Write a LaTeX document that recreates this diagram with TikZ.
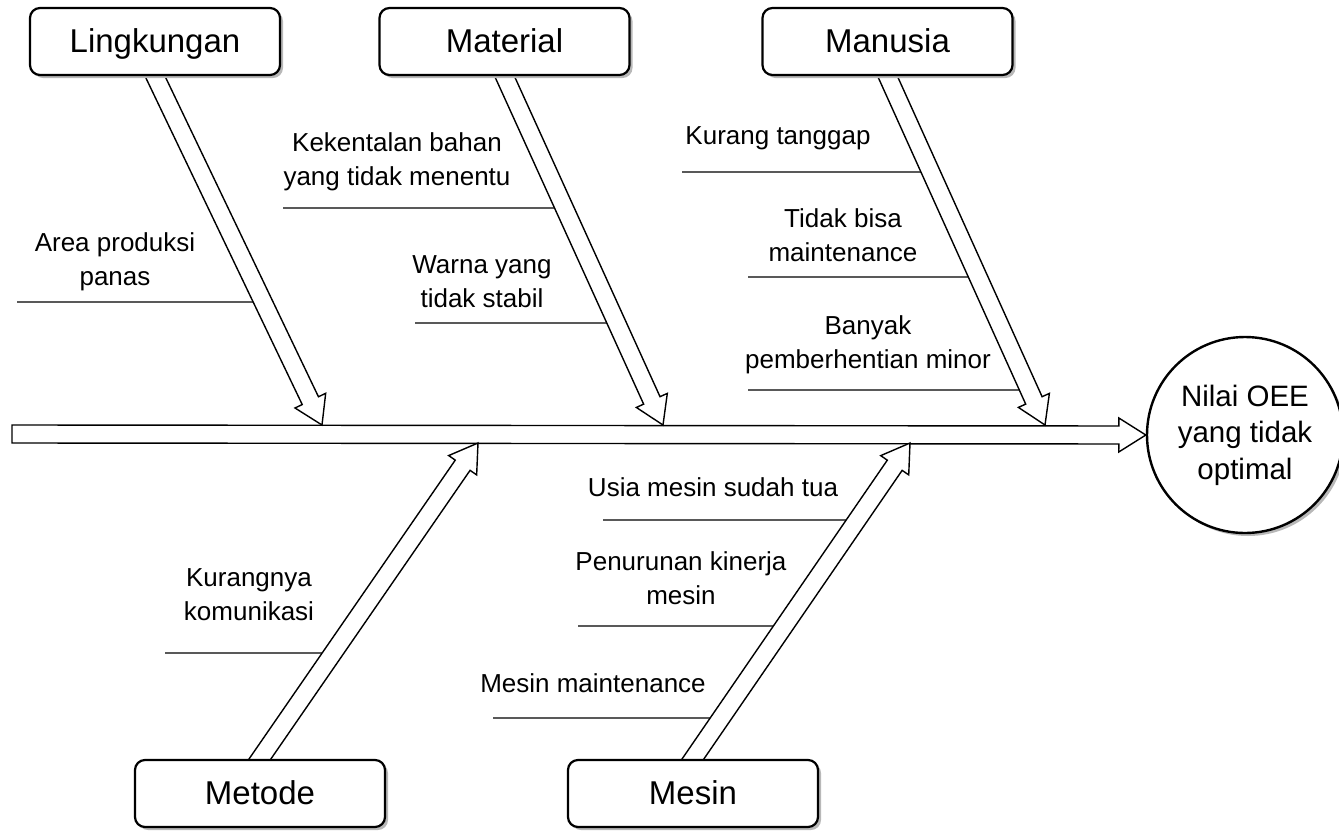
\documentclass[tikz,border=0pt]{standalone}
\usepackage{fontspec}
\setmainfont{Liberation Sans}
\usetikzlibrary{calc,positioning,shadows,intersections}
\pgfdeclarelayer{back}
\pgfsetlayers{back,main}

\tikzset{
  cause/.style={draw, line width=2.2pt, rounded corners=10pt, fill=white,
    minimum width=250pt, minimum height=67pt, inner sep=0pt,
    text height=26pt, text depth=5pt,
    font=\fontsize{33}{40}\selectfont,
    drop shadow={shadow xshift=3pt, shadow yshift=-3pt, fill=black!28, opacity=1}},
  effect/.style={draw, circle, line width=2.4pt, fill=white, minimum size=196pt,
    inner sep=0pt, align=center, font=\fontsize{29.5}{36.5}\selectfont,
    drop shadow={shadow xshift=3pt, shadow yshift=-3pt, fill=black!28, opacity=1}},
  reason/.style={align=center, inner sep=0pt, font=\fontsize{26}{34}\selectfont},
  bone/.style={line width=1.4pt, fill=white, line join=miter},
  twig/.style={line width=1.4pt},
}

% hollow arrow from #1 to #2
\newcommand{\hollowarrow}[2]{%
  \coordinate (ha-h) at ($(#2)!27pt!(#1)$);
  \draw[bone] ($(#1)!9pt!90:(#2)$) -- ($(ha-h)!9pt!90:(#2)$) -- ($(ha-h)!17pt!90:(#2)$)
    -- (#2) -- ($(ha-h)!17pt!-90:(#2)$) -- ($(ha-h)!9pt!-90:(#2)$)
    -- ($(#1)!9pt!-90:(#2)$) -- cycle;
}

\begin{document}
\begin{tikzpicture}[x=1pt, y=-1pt]
  \useasboundingbox (0,0) rectangle (1339,831);

  % effect
  \node[effect] (oee) at (1245,435) {Nilai OEE\\yang tidak\\optimal};

  % main causes
  \node[cause] (boxL)  at (155,41.5)  {Lingkungan};
  \node[cause] (boxMa) at (504.5,41.5) {Material};
  \node[cause] (boxMn) at (887.5,41.5) {Manusia};
  \node[cause] (boxMt) at (260,793.5) {Metode};
  \node[cause] (boxMs) at (693,793.5) {Mesin};

  % sub causes
  \node[reason] (areaP)   at (115,262)   {Area produksi\\panas};
  \node[reason] (kental)  at (397,162)   {Kekentalan bahan\\yang tidak menentu};
  \node[reason] (warna)   at (482,282)   {Warna yang\\tidak stabil};
  \node[reason] (tanggap) at (778,138)   {Kurang tanggap};
  \node[reason] (tdkBisa) at (843,235)   {Tidak bisa\\maintenance};
  \node[reason] (minor)   at (868,345)   {Banyak\\pemberhentian minor};
  \node[reason] (komun)   at (249,595)   {Kurangnya\\komunikasi};
  \node[reason] (usia)    at (713,487)   {Usia mesin sudah tua};
  \node[reason] (kinerja) at (681,578)   {Penurunan kinerja\\mesin};
  \node[reason] (mesinM)  at (593,683)   {Mesin maintenance};

  % tips on the spine
  \coordinate (spineStart) at (12,434);
  \coordinate (tipL)  at (322,425);
  \coordinate (tipMa) at (663,425);
  \coordinate (tipMn) at (1045,425);
  \coordinate (tipMt) at (478,443);
  \coordinate (tipMs) at (910,443);
  \foreach \b in {L,Ma,Mn}
    \coordinate (tail\b) at ($(box\b.south)!-12pt!(tip\b)$);
  \foreach \b in {Mt,Ms}
    \coordinate (tail\b) at ($(box\b.north)!-12pt!(tip\b)$);

  \begin{pgfonlayer}{back}
    \foreach \b/\yy/\xx in {L/302/17, Ma/208/283, Ma/323/415, Mn/172/682, Mn/277/748,
        Mn/390/748, Mt/653/165, Ms/520/603, Ms/626/578, Ms/718/493}
    {
      \path[name path=axis] (tail\b) -- (tip\b);
      \path[name path=level] (\xx,\yy) -- (1339,\yy);
      \draw[twig, name intersections={of=axis and level}] (\xx,\yy) -- (intersection-1);
    }

    \hollowarrow{spineStart}{oee.west}
    \foreach \b in {L,Ma,Mn,Mt,Ms}
    {
      \hollowarrow{tail\b}{tip\b}
    }
  \end{pgfonlayer}
\end{tikzpicture}
\end{document}
